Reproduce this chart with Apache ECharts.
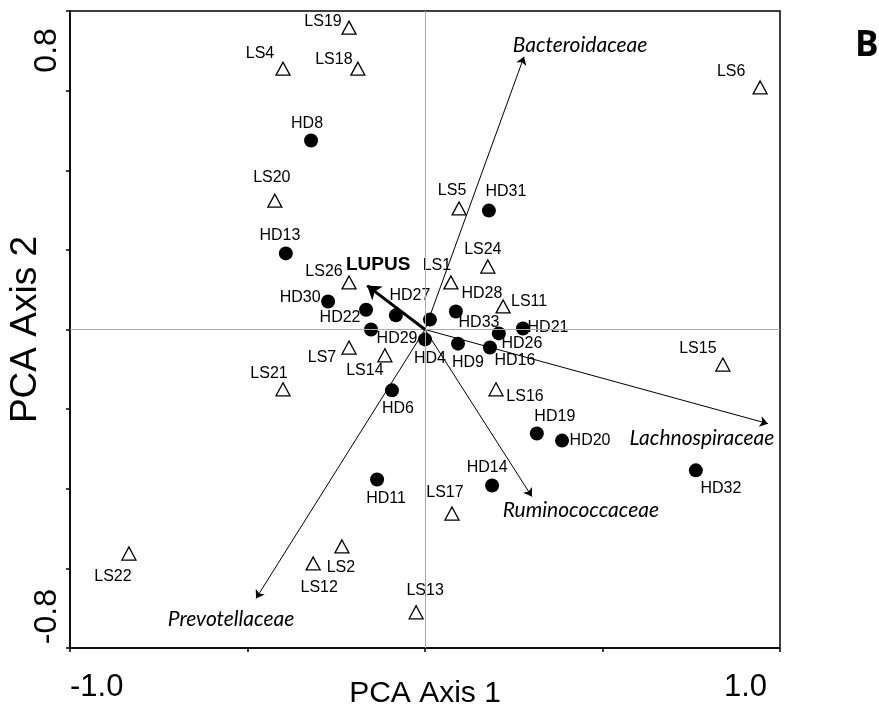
<!DOCTYPE html>
<html>
<head>
<meta charset="utf-8">
<script src="https://cdn.jsdelivr.net/npm/echarts@6/dist/echarts.min.js"></script>
<style>
  html, body { margin: 0; padding: 0; background: #fff; }
  #chart { width: 879px; height: 713px; }
</style>
</head>
<body>
<div id="chart"></div>
<script>
// LS samples (open triangles)
const lsNames = ['LS19', 'LS4', 'LS18', 'LS6', 'LS20', 'LS5', 'LS24', 'LS26', 'LS1', 'LS11',
  'LS7', 'LS14', 'LS15', 'LS21', 'LS16', 'LS17', 'LS2', 'LS22', 'LS12', 'LS13'];
const lsX = [-0.214, -0.400, -0.189, 0.944, -0.423, 0.096, 0.177, -0.214, 0.073, 0.220,
  -0.214, -0.113, 0.839, -0.400, 0.200, 0.076, -0.234, -0.834, -0.315, -0.025];
const lsY = [0.853, 0.737, 0.737, 0.684, 0.364, 0.342, 0.178, 0.133, 0.133, 0.065,
  -0.051, -0.073, -0.099, -0.169, -0.169, -0.520, -0.613, -0.633, -0.661, -0.799];

// HD samples (filled circles)
const hdNames = ['HD8', 'HD31', 'HD13', 'HD30', 'HD22', 'HD27', 'HD33', 'HD28', 'HD29', 'HD4',
  'HD9', 'HD16', 'HD26', 'HD21', 'HD6', 'HD19', 'HD20', 'HD32', 'HD11', 'HD14'];
const hdX = [-0.321, 0.180, -0.392, -0.273, -0.166, -0.082, 0.014, 0.087, -0.152, 0.000,
  0.093, 0.183, 0.208, 0.276, -0.093, 0.315, 0.386, 0.763, -0.135, 0.189];
const hdY = [0.534, 0.336, 0.215, 0.079, 0.056, 0.040, 0.028, 0.051, 0.000, -0.028,
  -0.040, -0.051, -0.011, 0.003, -0.172, -0.294, -0.314, -0.398, -0.424, -0.441];

// family vectors
const taxaNames = ['Bacteroidaceae', 'Lachnospiraceae', 'Ruminococcaceae', 'Prevotellaceae'];
const taxaX = [0.279, 0.966, 0.301, -0.476];
const taxaY = [0.771, -0.266, -0.472, -0.760];

// supplementary variable
const lupusX = -0.163;
const lupusY = 0.124;

// axis ticks / labels
const xTickValues = [-1, -0.5, 0, 0.5, 1];
const xLabelValues = [-1, 1];
const yTickValues = [-0.9, -0.675, -0.45, -0.225, 0, 0.225, 0.45, 0.675, 0.9];
const yLabelValues = [-0.8, 0.8];

// label placement (pixel offsets from the symbol)
const labelOffset = {
  LS19: [-26, -6], LS4: [-23, -15], LS18: [-24, -9], LS6: [-29, -16], LS20: [-3, -23],
  LS5: [-7, -18], LS24: [-5, -17], LS26: [-25, -11], LS1: [-14, -17], LS11: [26, -5],
  LS7: [-27, 10], LS14: [-20, 15], LS15: [-25, -16], LS21: [-14, -16], LS16: [29, 7],
  LS17: [-7, -21], LS2: [-1, 21], LS22: [-16, 23], LS12: [6, 24], LS13: [9, -22],
  HD8: [-4, -17], HD31: [17, -19], HD13: [-6, -18], HD30: [-28, -4], HD22: [-26, 8],
  HD27: [14, -20], HD33: [49, 3], HD28: [26, -18], HD29: [26, 9], HD4: [5, 19],
  HD9: [10, 19], HD16: [25, 13], HD26: [23, 10], HD21: [25, -1], HD6: [6, 18],
  HD19: [18, -17], HD20: [28, 0], HD32: [25, 18], HD11: [9, 19], HD14: [-5, -18],
  Bacteroidaceae: [56, -11], Lachnospiraceae: [-66, 15], Ruminococcaceae: [49, 14],
  Prevotellaceae: [-25, 21], LUPUS: [11, -21]
};

const sampleLabel = {
  show: true,
  position: 'inside',
  formatter: p => p.name,
  fontFamily: 'Liberation Sans',
  fontSize: 16,
  color: '#000',
  align: 'center',
  verticalAlign: 'middle'
};

function points(names, xs, ys) {
  return names.map((n, i) => ({
    name: n,
    value: [xs[i], ys[i]],
    label: { offset: labelOffset[n] }
  }));
}

const chart = echarts.init(document.getElementById('chart'));

chart.setOption({
  animation: false,
  backgroundColor: '#fff',
  grid: {
    left: 70, right: 99, top: 11, bottom: 65,
    show: true, borderColor: '#000', borderWidth: 1.5,
    outerBoundsMode: 'none'
  },
  xAxis: {
    type: 'value', min: -1, max: 1, interval: 0.5,
    name: 'PCA Axis 1', nameLocation: 'middle', nameGap: 31, nameMoveOverlap: false,
    nameTextStyle: { fontFamily: 'Liberation Sans', fontSize: 30, color: '#000' },
    axisLine: { show: true, onZero: false, lineStyle: { color: '#000', width: 1.5 } },
    axisTick: { show: true, length: 4, customValues: xTickValues, lineStyle: { color: '#000', width: 1.5 } },
    axisLabel: {
      customValues: xLabelValues,
      formatter: v => v.toFixed(1),
      fontFamily: 'Liberation Sans', fontSize: 31, color: '#000', margin: 24,
      alignMinLabel: 'left', alignMaxLabel: 'right', padding: [0, 13, 0, 0]
    },
    splitLine: { show: false }
  },
  yAxis: {
    type: 'value', min: -0.9, max: 0.9,
    name: 'PCA Axis 2', nameLocation: 'middle', nameGap: 26, nameMoveOverlap: false,
    nameTextStyle: { fontFamily: 'Liberation Sans', fontSize: 37, color: '#000' },
    axisLine: { show: true, onZero: false, lineStyle: { color: '#000', width: 1.5 } },
    axisTick: { show: true, length: 4, customValues: yTickValues, lineStyle: { color: '#000', width: 1.5 } },
    axisLabel: {
      customValues: yLabelValues,
      formatter: v => v.toFixed(1),
      rotate: 90,
      fontFamily: 'Liberation Sans', fontSize: 32, color: '#000', margin: 7,
      padding: [0, 8, 0, 0]
    },
    splitLine: { show: false }
  },
  graphic: [{
    type: 'text', left: 855, top: 29,
    style: { text: 'B', font: 'bold 35px "Open Sans"', fill: '#000' }
  }],
  series: [
    {
      type: 'lines',
      coordinateSystem: 'cartesian2d',
      z: 4,
      symbol: ['none', 'arrow'],
      symbolSize: 8,
      lineStyle: { color: '#000', width: 1, opacity: 1, curveness: 0 },
      data: taxaNames.map((n, i) => ({ coords: [[0, 0], [taxaX[i], taxaY[i]]] })),
      markLine: {
        silent: true,
        symbol: ['none', 'none'],
        label: { show: false },
        lineStyle: { color: '#aaa', type: 'solid', width: 1 },
        data: [{ xAxis: 0 }, { yAxis: 0 }]
      }
    },
    {
      type: 'lines',
      coordinateSystem: 'cartesian2d',
      z: 5,
      symbol: ['none', 'arrow'],
      symbolSize: 13,
      lineStyle: { color: '#000', width: 3, opacity: 1, curveness: 0 },
      data: [{ coords: [[0, 0], [lupusX, lupusY]] }]
    },
    {
      type: 'scatter',
      z: 3,
      symbol: 'circle',
      symbolSize: 14,
      itemStyle: { color: '#000', opacity: 1 },
      label: sampleLabel,
      data: points(hdNames, hdX, hdY)
    },
    {
      type: 'scatter',
      z: 3,
      symbol: 'triangle',
      symbolSize: [14, 13],
      itemStyle: { color: 'rgba(0,0,0,0)', borderColor: '#000', borderWidth: 1.3, opacity: 1 },
      label: sampleLabel,
      data: points(lsNames, lsX, lsY)
    },
    {
      type: 'scatter',
      z: 6,
      symbolSize: 0,
      itemStyle: { opacity: 1 },
      label: {
        show: true, position: 'inside', formatter: p => p.name,
        fontFamily: 'Lato', fontStyle: 'italic', fontSize: 21, color: '#000',
        align: 'center', verticalAlign: 'middle'
      },
      data: points(taxaNames, taxaX, taxaY)
    },
    {
      type: 'scatter',
      z: 6,
      symbolSize: 0,
      itemStyle: { opacity: 1 },
      label: {
        show: true, position: 'inside', formatter: p => p.name,
        fontFamily: 'Liberation Sans', fontWeight: 'bold', fontSize: 19, color: '#000',
        align: 'center', verticalAlign: 'middle'
      },
      data: points(['LUPUS'], [lupusX], [lupusY])
    }
  ]
});
</script>
</body>
</html>
